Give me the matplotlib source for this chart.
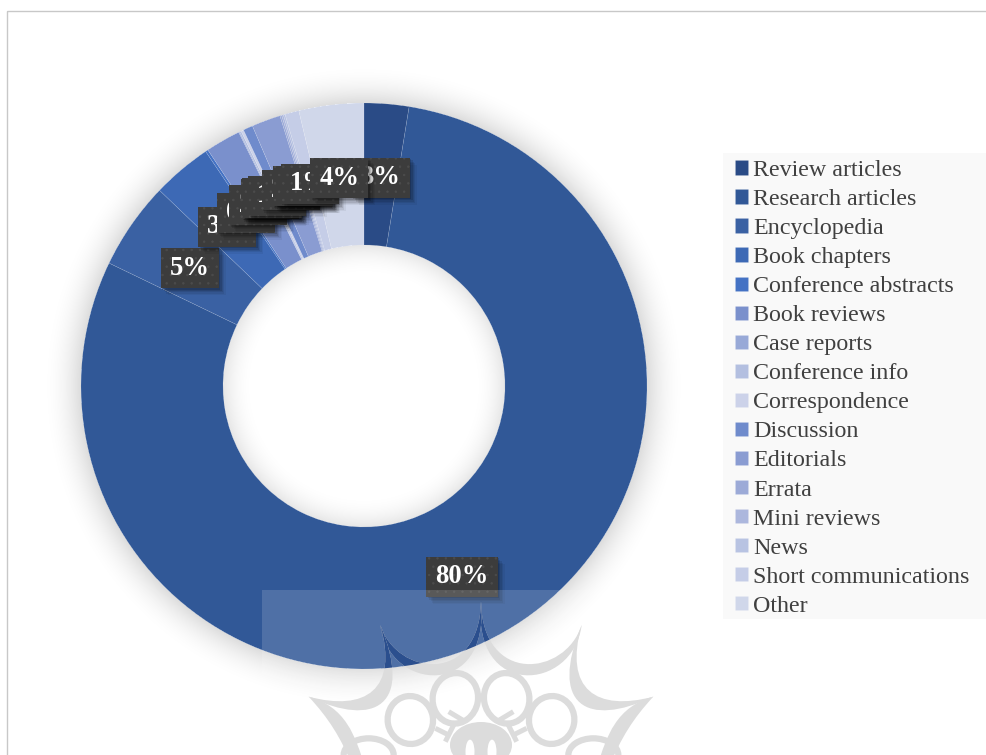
import numpy as np
import matplotlib
matplotlib.use("Agg")
import matplotlib.pyplot as plt
import matplotlib.patheffects as pe
from matplotlib.patches import Rectangle, PathPatch, Ellipse, Circle
from matplotlib.path import Path

# share of publications by document type (%)
doc_types = ["Review articles", "Research articles", "Encyclopedia", "Book chapters",
             "Conference abstracts", "Book reviews", "Case reports", "Conference info",
             "Correspondence", "Discussion", "Editorials", "Errata", "Mini reviews",
             "News", "Short communications", "Other"]
shares = [2.55, 79.6, 5.0, 3.4, 0.15, 2.0, 0.05, 0.1, 0.15, 0.55, 1.65, 0.1, 0.1, 0.1, 0.8, 3.7]
colors = ["#2a4b86", "#315897", "#3a61a3", "#3d69b5", "#4472c4", "#7a90cc", "#98a9d7", "#b3bfe0",
          "#ccd2e9", "#6f8bcc", "#8a9cd2", "#9caad7", "#acb7dd", "#b8c3e2", "#c5cde7", "#d0d7ea"]

W, H = 987, 755
CX, CY, R_OUT, R_IN = 364, 386, 283, 141
SERIF = "Liberation Serif"
ORNAMENT_GRAY = "#dcdcdc"
ORNAMENT_BLUE = "#2b4f8e"

fig = plt.figure(figsize=(W / 100, H / 100), dpi=100, facecolor="white")


def pixel_axes(zorder):
    a = fig.add_axes([0, 0, 1, 1], zorder=zorder)
    a.set_xlim(0, W)
    a.set_ylim(H, 0)
    a.axis("off")
    a.patch.set_visible(False)
    return a


# background layer: chart frame, legend panel and the soft glow round the ring
back = pixel_axes(0)
back.add_patch(Rectangle((6.5, 10.5), W + 50, H + 50, fc="none", ec="#c8c8c8", lw=1.0))
back.add_patch(Rectangle((723, 153), 263, 466, fc="#f9f9f9", ec="none"))

yy, xx = np.mgrid[0:H, 0:W]
dist = np.hypot(xx + 0.5 - CX, yy + 0.5 - CY)
outer = np.clip(1 - (dist - R_OUT) / 42, 0, 1) ** 2.2
inner = np.clip(1 - (R_IN - dist) / 34, 0, 1) ** 2.2
glow = np.where(dist > R_OUT, outer * 0.14, np.where(dist < R_IN, inner * 0.10, 0))
rgba = np.zeros((H, W, 4))
rgba[..., 3] = glow
back.imshow(rgba, extent=(0, W, H, 0), aspect="auto", interpolation="bilinear", zorder=1)
back.set_xlim(0, W)
back.set_ylim(H, 0)

# the doughnut
ax = fig.add_axes([(CX - R_OUT) / W, (H - CY - R_OUT) / H, 2 * R_OUT / W, 2 * R_OUT / H], zorder=1)
ax.patch.set_visible(False)
wedges, _, autotexts = ax.pie(
    shares, colors=colors, startangle=90, counterclock=False,
    autopct="%.0f%%", pctdistance=(R_OUT + R_IN) / 2 / R_OUT,
    wedgeprops=dict(width=1 - R_IN / R_OUT, edgecolor=(1, 1, 1, 0.16), linewidth=0.4),
)
ax.set_xlim(-1, 1)
ax.set_ylim(-1, 1)


def label_box(x0, y0, width, height, mutation_size):
    # wider side padding than top and bottom
    dx, dy = 9, 7.5
    x1, y1 = x0 + width + dx, y0 + height + dy
    x0, y0 = x0 - dx, y0 - dy
    return Path([(x0, y0), (x1, y0), (x1, y1), (x0, y1), (x0, y0)], closed=True)


class BoxShadow(pe.AbstractPathEffect):
    # plain offset shadow, without the hatch of the box above it
    def __init__(self, offset, alpha):
        super().__init__(offset)
        self.alpha = alpha

    def draw_path(self, renderer, gc, tpath, affine, rgbFace):
        gc0 = renderer.new_gc()
        gc0.copy_properties(gc)
        gc0.set_hatch(None)
        gc0.set_linewidth(0)
        gc0.set_foreground("none")
        gc0.set_alpha(self.alpha)
        renderer.draw_path(gc0, tpath, affine + self._offset_transform(renderer), (0, 0, 0))
        gc0.restore()


plt.rcParams["hatch.linewidth"] = 0.5
for t in autotexts:
    t.set(color="white", family=SERIF, fontweight="bold", fontsize=19.2, va="center_baseline")
    t.set_bbox(dict(boxstyle=label_box, facecolor="#3c3c3c", edgecolor="#4c4c4c",
                    linewidth=0, hatch=".."))
    t.get_bbox_patch().set_path_effects([
        BoxShadow((5.0, -5.0), 0.05),
        BoxShadow((4.0, -4.0), 0.07),
        BoxShadow((3.0, -3.0), 0.09),
        BoxShadow((2.0, -2.0), 0.12),
        BoxShadow((1.0, -1.0), 0.15),
        pe.Normal(),
    ])

leg = ax.legend(
    wedges, doc_types, loc="upper left", bbox_to_anchor=(735 / W, 1 - 160 / H),
    bbox_transform=fig.transFigure, prop=dict(family=SERIF, size=17.3),
    labelcolor="#404040", frameon=False, handlelength=0.54, handleheight=0.54,
    handletextpad=0.21, labelspacing=0.335, borderpad=0, borderaxespad=0,
)
leg.set_zorder(10)

# top layer: translucent panel and ornament at the foot of the page
top = pixel_axes(3)
top.add_patch(Rectangle((262, 590), 440, 200, fc="white", ec="none", alpha=0.15))

MID = 481.0
OFF_Y = 595


def zp(x, y, side):
    # sketch units are 3 per pixel, measured from the ornament's axis
    return (MID + side * (x - 543) / 3, OFF_Y + y / 3)


def crescent(p0, c1a, c2a, p1, c1b, c2b, side, end=None):
    verts = [p0, c1a, c2a, p1]
    codes = [Path.MOVETO, Path.CURVE4, Path.CURVE4, Path.CURVE4]
    if end:
        verts.append(end)
        codes.append(Path.LINETO)
    verts += [c2b, c1b, p0]
    codes += [Path.CURVE4, Path.CURVE4, Path.CURVE4]
    return Path([zp(x, y, side) for x, y in verts], codes)


clip_disc = Circle((CX, CY), R_OUT, transform=top.transData)
for side in (1, -1):
    arcs = [
        crescent((543, 20), (548, 270), (795, 245), (845, 90), (515, 315), (820, 290), side),
        crescent((845, 90), (790, 285), (890, 350), (1060, 305), (745, 330), (860, 400), side),
        crescent((1060, 305), (950, 335), (920, 420), (890, 520), (1000, 370), (965, 425), side,
                 end=(925, 520)),
    ]
    for arc in arcs:
        top.add_patch(PathPatch(arc, fc=ORNAMENT_GRAY, ec="none"))
        dark = PathPatch(arc, fc=ORNAMENT_BLUE, ec="none")
        top.add_patch(dark)
        dark.set_clip_path(clip_disc)

    # rings inside the star
    for (zx, zy, rx, ry, ang) in [(620, 310, 68, 76, -10), (755, 375, 68, 72, 10), (880, 480, 75, 50, 0)]:
        c = zp(zx, zy, side)
        top.add_patch(Ellipse(c, 2 * rx / 3, 2 * ry / 3, angle=ang * side, fc="none",
                              ec=ORNAMENT_GRAY, lw=4.5))
    # short bars beside the diamond
    for seg in [((590, 380), (640, 350)), ((640, 420), (680, 400)), ((620, 380), (650, 440))]:
        top.plot(*zip(*[zp(x, y, side) for x, y in seg]), color=ORNAMENT_GRAY, lw=3.6,
                 solid_capstyle="butt")

# filled heart of the ornament with its pale petal
top.add_patch(Ellipse(zp(543, 450, 1), 62, 46, fc=ORNAMENT_GRAY, ec="none"))
top.add_patch(Ellipse(zp(510, 470, 1), 9, 24, fc="white", ec="none"))
top.add_patch(Ellipse(zp(576, 470, 1), 9, 24, fc="white", ec="none"))
top.set_xlim(0, W)
top.set_ylim(H, 0)

fig.savefig("out.png", dpi=100, facecolor="white")
